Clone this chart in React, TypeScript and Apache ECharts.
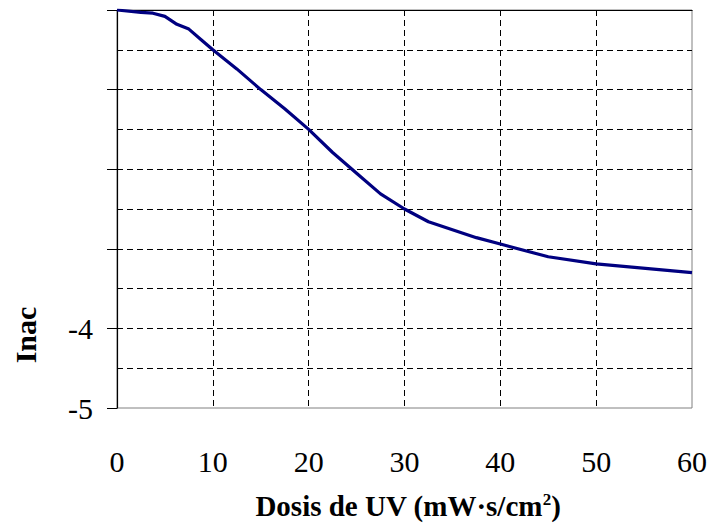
import React, { useEffect, useRef } from "react";
import * as echarts from "echarts";

const doseValues = [0, 2.5, 3.75, 5, 6.25, 7.5, 8.75, 10, 12.5, 15, 17.5, 20, 22.5, 25, 27.5, 30, 32.5, 35, 37.5, 40, 45, 50, 60];
const inacValues = [0, -0.03, -0.04, -0.08, -0.18, -0.24, -0.37, -0.5, -0.74, -1.0, -1.24, -1.5, -1.79, -2.05, -2.31, -2.5, -2.66, -2.76, -2.86, -2.94, -3.1, -3.19, -3.3];
const shownYLabels = [-4, -5];
const xTitle = "Dosis de UV (mW·s/cm";
const yTitle = "Inac";

const FONT = "Liberation Serif";

export default function App() {
  const ref = useRef<HTMLDivElement>(null);
  useEffect(() => {
    if (!ref.current) return;
    const chart = echarts.init(ref.current, null, { renderer: "svg" });
    const data = doseValues.map((x, i) => [x, inacValues[i]]);
    chart.setOption({
      animation: false,
      backgroundColor: "#fff",
      grid: {
        left: 117,
        right: 15,
        top: 10,
        bottom: 119,
        show: true,
        borderColor: "#808080",
        borderWidth: 1,
      },
      xAxis: [
        {
          type: "value",
          min: 0,
          max: 60,
          interval: 10,
          axisLine: { show: true, lineStyle: { color: "#808080", width: 1 } },
          axisTick: { show: false },
          axisLabel: { margin: 38, fontFamily: FONT, fontSize: 30, color: "#000" },
          splitLine: {
            show: true,
            showMinLine: false,
            showMaxLine: false,
            lineStyle: { color: "#000", type: [6, 4], width: 1 },
          },
        },
        {
          type: "value",
          position: "top",
          min: 0,
          max: 60,
          interval: 10,
          axisLine: { show: true, lineStyle: { color: "#000", width: 1.2 } },
          axisTick: { show: false },
          axisLabel: { show: false },
          splitLine: { show: false },
        },
      ],
      yAxis: {
        type: "value",
        min: -5,
        max: 0,
        interval: 1,
        axisLine: { show: true, lineStyle: { color: "#000", width: 1.2 } },
        axisTick: { show: true, inside: false, length: 10, lineStyle: { color: "#000", width: 1 } },
        minorTick: { show: false, splitNumber: 2 },
        axisLabel: {
          margin: 24,
          fontFamily: FONT,
          fontSize: 30,
          color: "#000",
          formatter: (v: number) => (shownYLabels.includes(v) ? String(v) : ""),
        },
        splitLine: {
          show: true,
          showMinLine: false,
          showMaxLine: false,
          lineStyle: { color: "#000", type: [6, 4], width: 1 },
        },
        minorSplitLine: {
          show: true,
          lineStyle: { color: "#000", type: [6, 4], width: 1 },
        },
      },
      series: [
        {
          type: "line",
          data,
          xAxisIndex: 0,
          showSymbol: false,
          symbol: "none",
          lineStyle: { color: "#000080", width: 3.2 },
          z: 5,
        },
      ],
      graphic: [
        {
          type: "text",
          x: 408,
          y: 506,
          style: {
            text: "{t|" + xTitle + "}{s|2}{t|)}",
            align: "center",
            verticalAlign: "middle",
            rich: {
              t: { fontFamily: FONT, fontSize: 29, fontWeight: "bold", fill: "#000" },
              s: { fontFamily: FONT, fontSize: 17, fontWeight: "bold", fill: "#000", padding: [0, 0, 14, 0] },
            },
          },
        },
        {
          type: "text",
          x: 25,
          y: 335,
          rotation: Math.PI / 2,
          style: {
            text: yTitle,
            align: "center",
            verticalAlign: "middle",
            fontFamily: FONT,
            fontSize: 30,
            fontWeight: "bold",
            fill: "#000",
          },
        },
      ],
    });
    return () => chart.dispose();
  }, []);
  return <div ref={ref} style={{ width: 710, height: 527, position: "absolute", left: 0, top: 0 }} />;
}
